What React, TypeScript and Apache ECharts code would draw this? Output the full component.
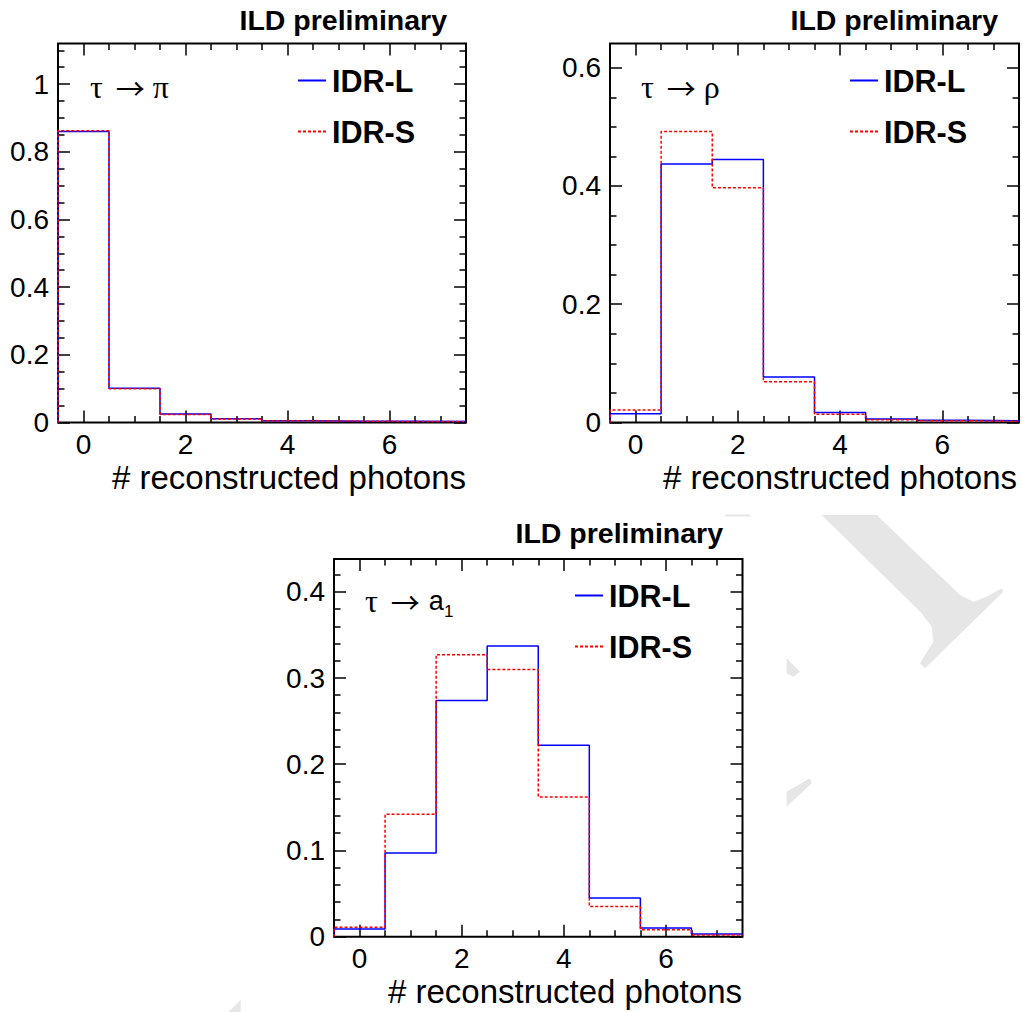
import React, { useEffect, useRef } from "react";
import * as echarts from "echarts";

// ---------- data ----------
const BINS = [0, 1, 2, 3, 4, 5, 6, 7];
const SERIES_NAMES = ["IDR-L", "IDR-S"];

const PI_IDR_L = [0.86, 0.101, 0.025, 0.011, 0.005, 0.004, 0.004, 0.003];
const PI_IDR_S = [0.862, 0.1, 0.024, 0.01, 0.005, 0.004, 0.003, 0.003];

const RHO_IDR_L = [0.015, 0.437, 0.445, 0.077, 0.017, 0.006, 0.004, 0.003];
const RHO_IDR_S = [0.021, 0.492, 0.397, 0.069, 0.014, 0.0045, 0.003, 0.002];

const A1_IDR_L = [0.009, 0.097, 0.274, 0.337, 0.222, 0.045, 0.01, 0.003];
const A1_IDR_S = [0.011, 0.142, 0.327, 0.31, 0.162, 0.035, 0.008, 0.002];

// ---------- tick values ----------
const X_MAJOR = [0, 2, 4, 6];
const X_MINOR = [0.5, 1, 1.5, 2.5, 3, 3.5, 4.5, 5, 5.5, 6.5, 7];
const Y1_MAJOR = [0, 0.2, 0.4, 0.6, 0.8, 1];
const Y1_MINOR = [0.05, 0.1, 0.15, 0.25, 0.3, 0.35, 0.45, 0.5, 0.55, 0.65, 0.7, 0.75, 0.85, 0.9, 0.95, 1.05, 1.1];
const Y2_MAJOR = [0, 0.2, 0.4, 0.6];
const Y2_MINOR = [0.05, 0.1, 0.15, 0.25, 0.3, 0.35, 0.45, 0.5, 0.55];
const Y3_MAJOR = [0, 0.1, 0.2, 0.3, 0.4];
const Y3_MINOR = [0.02, 0.04, 0.06, 0.08, 0.12, 0.14, 0.16, 0.18, 0.22, 0.24, 0.26, 0.28, 0.32, 0.34, 0.36, 0.38, 0.42];

const X_TITLE = "# reconstructed photons";
const PANEL_TITLE = "ILD preliminary";

// ---------- layout / style ----------
const SANS = "'Liberation Sans', Arial, Helvetica, sans-serif";
const SERIF = "'Liberation Serif', 'DejaVu Serif', serif";
const ARROW_FONT = "'Noto Sans CJK SC', 'DejaVu Sans', sans-serif";
const BLUE = "#0000ff";
const RED = "#ff0000";

const PANELS = [
  {
    grid: { left: 58, top: 43.5, width: 408, height: 379 },
    yMax: 1.12, yMajor: Y1_MAJOR, yMinor: Y1_MINOR,
    l: PI_IDR_L, s: PI_IDR_S,
    titleRight: 575, titleTop: 5,
    legendLeft: 298, legendTop: 65,
    xTitleX: 466, xTitleY: 477,
    decay: "π", decayX: 90, decayY: 87,
  },
  {
    grid: { left: 610, top: 43.5, width: 409, height: 379 },
    yMax: 0.641, yMajor: Y2_MAJOR, yMinor: Y2_MINOR,
    l: RHO_IDR_L, s: RHO_IDR_S,
    titleRight: 24, titleTop: 5,
    legendLeft: 850, legendTop: 65,
    xTitleX: 1017, xTitleY: 477,
    decay: "ρ", decayX: 641, decayY: 87,
  },
  {
    grid: { left: 334, top: 559, width: 408.5, height: 377.7 },
    yMax: 0.438, yMajor: Y3_MAJOR, yMinor: Y3_MINOR,
    l: A1_IDR_L, s: A1_IDR_S,
    titleRight: 299, titleTop: 518,
    legendLeft: 575, legendTop: 580,
    xTitleX: 742, xTitleY: 991,
    decay: "a", decayX: 365, decayY: 601,
  },
];

const LEGEND_ICONS = [
  "path://M0 0h28v2h-28z",
  "path://M0 0h3v2h-3zM5 0h3v2h-3zM10 0h3v2h-3zM15 0h3v2h-3zM20 0h3v2h-3zM25 0h3v2h-3z",
];

function stepPoints(values: number[]) {
  const pts: number[][] = [[BINS[0] - 0.5, 0]];
  values.forEach((v, i) => {
    pts.push([BINS[i] - 0.5, v], [BINS[i] + 0.5, v]);
  });
  return pts;
}

const tickLine = { color: "#000", width: 1.5 };
const labelStyle = { color: "#000", fontSize: 28, fontFamily: SANS };

function xAxesFor(g: number) {
  const base = {
    type: "value",
    gridIndex: g,
    min: BINS[0] - 0.5,
    max: BINS[BINS.length - 1] + 0.5,
    axisLine: { show: false, onZero: false },
    splitLine: { show: false },
  };
  return ["bottom", "top"].flatMap((pos) => [
    {
      ...base,
      position: pos,
      axisTick: { show: true, inside: true, length: 12, customValues: X_MAJOR, lineStyle: tickLine },
      axisLabel: pos === "bottom"
        ? { show: true, customValues: X_MAJOR, margin: 8, ...labelStyle }
        : { show: false },
    },
    {
      ...base,
      position: pos,
      axisTick: { show: true, inside: true, length: 6.5, customValues: X_MINOR, lineStyle: tickLine },
      axisLabel: { show: false },
    },
  ]);
}

function yAxesFor(g: number, p: any) {
  const base = {
    type: "value",
    gridIndex: g,
    min: 0,
    max: p.yMax,
    axisLine: { show: false, onZero: false },
    splitLine: { show: false },
  };
  return ["left", "right"].flatMap((pos) => [
    {
      ...base,
      position: pos,
      axisTick: { show: true, inside: true, length: 12, customValues: p.yMajor, lineStyle: tickLine },
      axisLabel: pos === "left"
        ? { show: true, customValues: p.yMajor, margin: 9, padding: [6, 0, 0, 0], ...labelStyle }
        : { show: false },
    },
    {
      ...base,
      position: pos,
      axisTick: { show: true, inside: true, length: 6.5, customValues: p.yMinor, lineStyle: tickLine },
      axisLabel: { show: false },
    },
  ]);
}

const WATERMARK = [
  [[821.7, 515], [876.7, 515], [960, 595], [973.3, 601.7], [986.7, 596.7], [1001.7, 588.3], [1003.3, 591.7], [925, 668.3], [920, 663.3], [933.3, 641.7], [931.7, 626.7], [921.7, 613.3]],
  [[786.7, 658.3], [800, 671.7], [793.3, 676.7], [786.7, 673.3]],
  [[786.7, 791.7], [810, 778.3], [811.7, 783.3], [786.7, 806.7]],
  [[228.3, 1012], [240.7, 1000], [240.7, 1012]],
];

function buildOption() {
  const grid = PANELS.map((p) => ({
    ...p.grid,
    show: true,
    borderColor: "#000",
    borderWidth: 2,
    backgroundColor: "transparent",
    containLabel: false,
  }));
  const xAxis = PANELS.flatMap((_, g) => xAxesFor(g));
  const yAxis = PANELS.flatMap((p, g) => yAxesFor(g, p));

  const series: any[] = [];
  PANELS.forEach((p, g) => {
    series.push({
      type: "line",
      name: SERIES_NAMES[0],
      xAxisIndex: g * 4,
      yAxisIndex: g * 4,
      data: stepPoints(p.l),
      symbol: "none",
      clip: false,
      lineStyle: { color: BLUE, width: 1.5 },
      itemStyle: { color: BLUE },
      z: 3,
    });
    series.push({
      type: "line",
      name: SERIES_NAMES[1],
      xAxisIndex: g * 4,
      yAxisIndex: g * 4,
      data: stepPoints(p.s),
      symbol: "none",
      clip: false,
      lineStyle: { color: RED, width: 1.5, type: [3, 2] },
      itemStyle: { color: RED },
      z: 4,
    });
  });

  const title = PANELS.map((p) => ({
    text: PANEL_TITLE,
    right: p.titleRight,
    top: p.titleTop,
    padding: 0,
    textStyle: { fontSize: 28.5, fontWeight: "bold", fontFamily: SANS, color: "#000" },
  }));

  const legend = PANELS.map((p) => ({
    left: p.legendLeft,
    top: p.legendTop,
    orient: "vertical",
    padding: 0,
    itemWidth: 28,
    itemHeight: 2,
    itemGap: 20,
    selectedMode: false,
    data: SERIES_NAMES.map((name, i) => ({ name, icon: LEGEND_ICONS[i] })),
    textStyle: { fontSize: 30.5, fontWeight: "bold", fontFamily: SANS, color: "#000", padding: [0, 0, 0, 1] },
  }));

  const graphic: any[] = [];
  WATERMARK.forEach((pts) => {
    graphic.push({ type: "polygon", z: -10, shape: { points: pts }, style: { fill: "#e6e6e6" }, silent: true });
  });
  graphic.push({ type: "rect", z: -10, shape: { x: 725, y: 514.5, width: 25, height: 2 }, style: { fill: "#e6e6e6" }, silent: true });

  PANELS.forEach((p) => {
    graphic.push({
      type: "text",
      x: p.xTitleX,
      y: p.xTitleY,
      style: { text: X_TITLE, fontSize: 33, fontFamily: SANS, fill: "#000", align: "right", verticalAlign: "middle" },
    });
    const isA = p.decay === "a";
    graphic.push({
      type: "text",
      x: p.decayX,
      y: p.decayY,
      style: {
        text: "{t|τ}{ar|→}{d|" + p.decay + "}",
        align: "left",
        verticalAlign: "middle",
        rich: {
          t: { fontSize: 32, fontFamily: SERIF, fill: "#000" },
          ar: { fontSize: 29, fontFamily: ARROW_FONT, fill: "#000", padding: [0, isA ? 9 : 8, 0, 13] },
          d: { fontSize: isA ? 27 : 32, fontFamily: isA ? SANS : SERIF, fill: "#000" },
        },
      },
    });
  });
  // subscript of a1
  graphic.push({
    type: "text",
    x: 444,
    y: 611,
    style: { text: "1", fontSize: 17, fontFamily: SANS, fill: "#000", align: "left", verticalAlign: "middle" },
  });

  return {
    animation: false,
    backgroundColor: "#fff",
    title,
    legend,
    grid,
    xAxis,
    yAxis,
    series,
    graphic,
  };
}

export default function App() {
  const ref = useRef<HTMLDivElement>(null);
  useEffect(() => {
    if (!ref.current) return;
    const chart = echarts.init(ref.current, undefined, { renderer: "svg" });
    chart.setOption(buildOption() as any);
    return () => chart.dispose();
  }, []);
  return (
    <div
      ref={ref}
      style={{ position: "absolute", left: 0, top: 0, width: 1022, height: 1012 }}
    />
  );
}
